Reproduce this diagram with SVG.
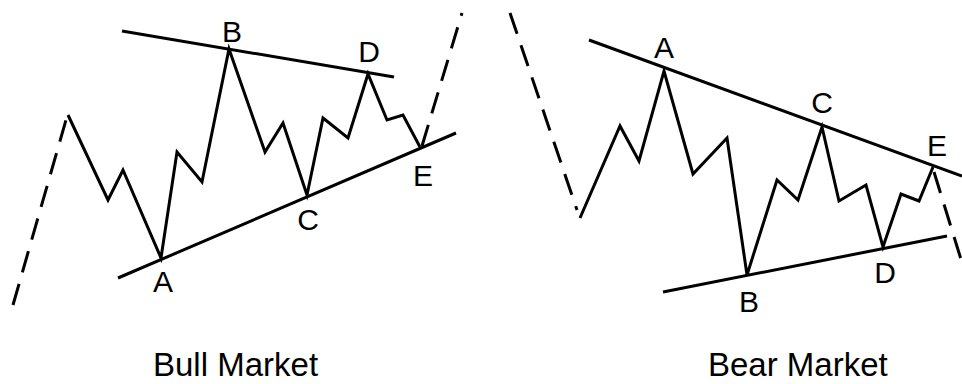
<svg xmlns="http://www.w3.org/2000/svg" width="962" height="384" viewBox="0 0 962 384">
<style>
.ln{fill:none;stroke:#000;stroke-width:3;stroke-linejoin:miter;stroke-linecap:butt}
.dash{stroke-dasharray:22 12}
.lbl{font-family:"Liberation Sans",Arial,sans-serif;font-size:30px;fill:#000;text-anchor:middle}
.ttl{font-family:"Liberation Sans",Arial,sans-serif;font-size:33px;fill:#000}
</style>
<rect width="962" height="384" fill="#fff"/>
<g id="bull">
  <g id="bull-trend">
    <line class="ln dash" x1="13" y1="305" x2="66" y2="120"/>
    <line class="ln dash" x1="422" y1="146" x2="462" y2="13"/>
  </g>
  <g id="bull-bounds">
    <line class="ln" x1="122" y1="31" x2="394" y2="77"/>
    <line class="ln" x1="118" y1="278" x2="456" y2="133"/>
  </g>
  <g id="bull-wave">
    <polyline class="ln" points="68,115 108,200 123,170 161,258 177,152 202,182 229,49 265,152 283,123 307,195 323,118 348,138 368,74 387,120 403,115 420,147"/>
  </g>
  <g id="bull-labels">
    <text class="lbl" x="232" y="42">B</text>
    <text class="lbl" x="369" y="62">D</text>
    <text class="lbl" x="308" y="230">C</text>
    <text class="lbl" x="163" y="292">A</text>
    <text class="lbl" x="423" y="186">E</text>
  </g>
  <text class="ttl" x="153" y="376">Bull Market</text>
</g>
<g id="bear">
  <g id="bear-trend">
    <line class="ln dash" x1="510" y1="13" x2="577" y2="210"/>
    <line class="ln dash" x1="934" y1="172" x2="968" y2="282"/>
  </g>
  <g id="bear-bounds">
    <line class="ln" x1="589" y1="40" x2="962" y2="176"/>
    <line class="ln" x1="663" y1="292" x2="947" y2="236"/>
  </g>
  <g id="bear-wave">
    <polyline class="ln" points="580,218 620,126 639,161 664,71 693,174 727,138 747,275 777,180 798,200 822,127 839,201 866,185 883,247 901,194 919,201 933,167"/>
  </g>
  <g id="bear-labels">
    <text class="lbl" x="664" y="58">A</text>
    <text class="lbl" x="822" y="113">C</text>
    <text class="lbl" x="937" y="156">E</text>
    <text class="lbl" x="885" y="283">D</text>
    <text class="lbl" x="749" y="312">B</text>
  </g>
  <text class="ttl" x="708" y="376">Bear Market</text>
</g>
</svg>
